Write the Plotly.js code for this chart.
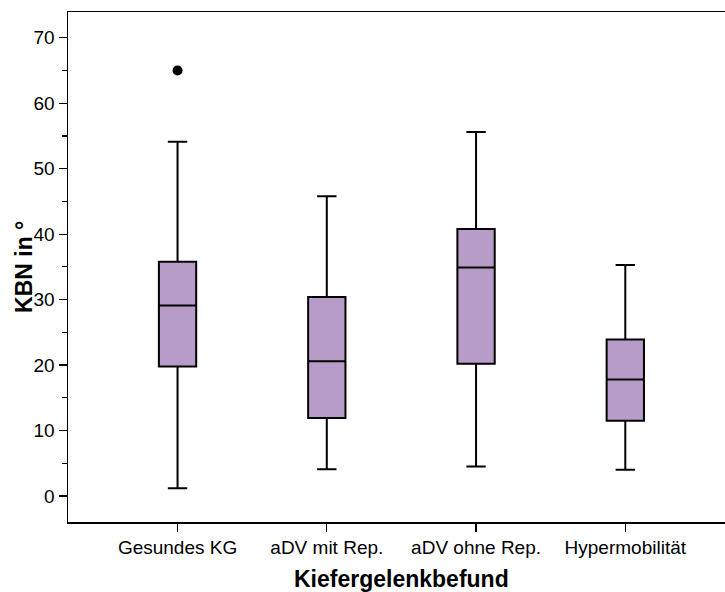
<!DOCTYPE html>
<html>
<head>
<meta charset="utf-8">
<script src="https://cdn.plot.ly/plotly-3.0.1.min.js"></script>
<style>html,body{margin:0;padding:0;background:#fff;}#chart{width:725px;height:592px;}</style>
</head>
<body>
<div id="chart"></div>
<script>
// Data
var categories = ["Gesundes KG", "aDV mit Rep.", "aDV ohne Rep.", "Hypermobilität"];
var lowerWhisker = [1.2, 4.1, 4.5, 4.0];
var q1Values = [19.8, 11.9, 20.2, 11.5];
var medianValues = [29.1, 20.6, 34.9, 17.8];
var q3Values = [35.8, 30.4, 40.8, 23.9];
var upperWhisker = [54.1, 45.8, 55.6, 35.3];
var outlierCategories = ["Gesundes KG"];
var outlierValues = [65.0];
var yTickValues = [0, 10, 20, 30, 40, 50, 60, 70];
var xTitle = "Kiefergelenkbefund";
var yTitle = "KBN in °";

var fontFamily = "Liberation Sans, Arial, Helvetica, sans-serif";

var traces = [
  {
    type: "box",
    x: categories,
    q1: q1Values,
    median: medianValues,
    q3: q3Values,
    lowerfence: lowerWhisker,
    upperfence: upperWhisker,
    width: 0.25,
    whiskerwidth: 0.52,
    fillcolor: "#b89cc8",
    line: { color: "#000000", width: 2 },
    boxpoints: false,
    hoverinfo: "skip",
    showlegend: false
  },
  {
    type: "scatter",
    mode: "markers",
    x: outlierCategories,
    y: outlierValues,
    marker: { color: "#000000", size: 10, symbol: "circle" },
    hoverinfo: "skip",
    showlegend: false
  }
];

var layout = {
  width: 725,
  height: 592,
  margin: { l: 68, r: 0, t: 12, b: 70 },
  paper_bgcolor: "#ffffff",
  plot_bgcolor: "#ffffff",
  font: { family: fontFamily, color: "#000000", size: 19 },
  showlegend: false,
  xaxis: {
    type: "category",
    categoryorder: "array",
    categoryarray: categories,
    range: [-0.734, 3.668],
    showgrid: false,
    zeroline: false,
    showline: true,
    linecolor: "#000000",
    linewidth: 1.5,
    mirror: true,
    ticks: "outside",
    ticklen: 8,
    tickwidth: 1.2,
    tickcolor: "#000000",
    tickfont: { family: fontFamily, size: 19, color: "#000000" }
  },
  yaxis: {
    range: [-3.97, 73.93],
    tickvals: yTickValues,
    showgrid: false,
    zeroline: false,
    showline: true,
    linecolor: "#000000",
    linewidth: 1.5,
    ticks: "outside",
    ticklen: 8,
    tickwidth: 1.2,
    tickcolor: "#000000",
    tickfont: { family: fontFamily, size: 19, color: "#000000" },
    minor: { dtick: 5, tick0: 5, ticks: "outside", ticklen: 5, tickwidth: 1.2, tickcolor: "#000000", showgrid: false }
  },
  annotations: [
    {
      text: "<b>" + xTitle + "</b>",
      xref: "x", yref: "paper",
      x: 1.5, y: -0.112,
      xanchor: "center", yanchor: "middle",
      showarrow: false,
      font: { family: fontFamily, size: 23, color: "#000000" }
    },
    {
      text: "<b>" + yTitle + "</b>",
      xref: "paper", yref: "paper",
      x: -0.067, y: 0.5,
      xanchor: "center", yanchor: "middle",
      textangle: -90,
      showarrow: false,
      font: { family: fontFamily, size: 23, color: "#000000" }
    }
  ]
};

Plotly.newPlot("chart", traces, layout, { displayModeBar: false, staticPlot: true });
</script>
</body>
</html>
